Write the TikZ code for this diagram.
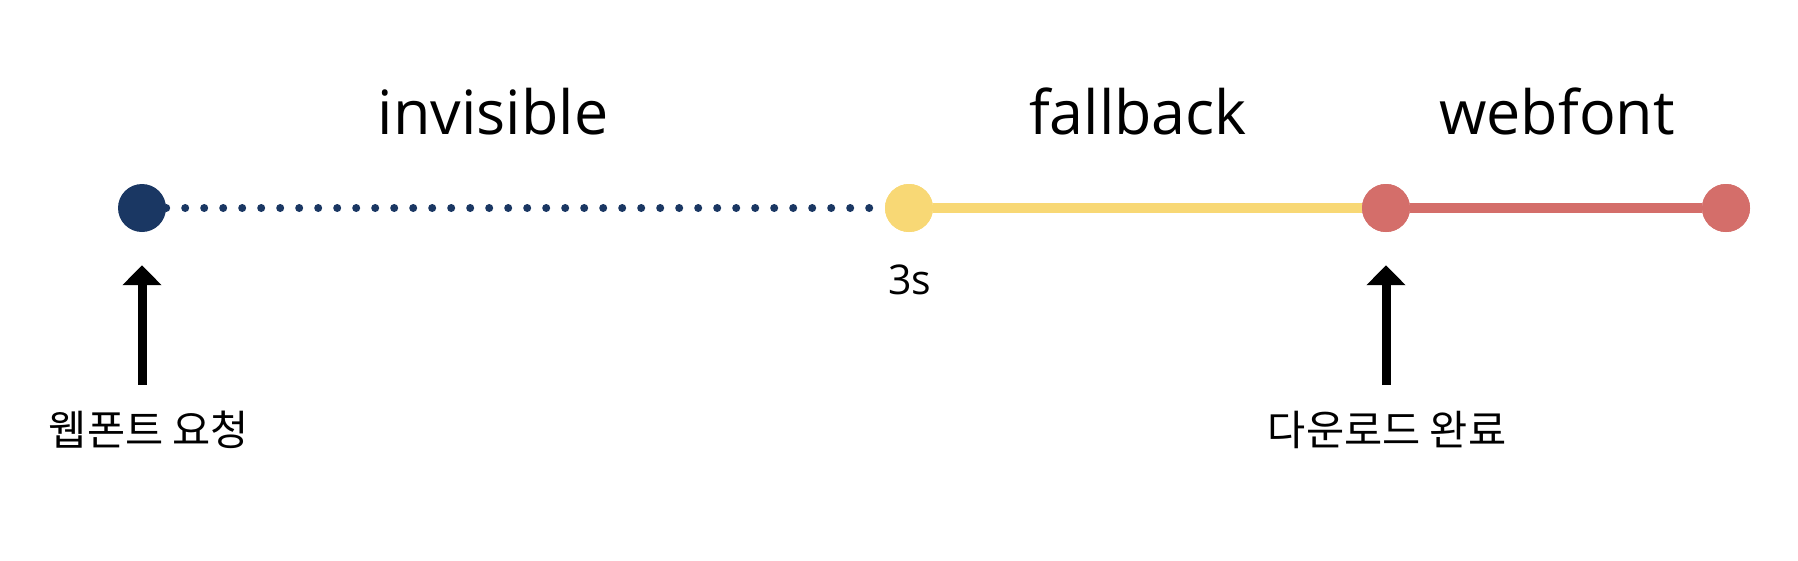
\documentclass[tikz,border=0pt]{standalone}
\usepackage{fontspec}
\setmainfont{Open Sans}
\newfontfamily\kofont{Noto Sans CJK KR}
\definecolor{navy}{HTML}{1A3763}
\definecolor{sunny}{HTML}{F8D875}
\definecolor{coral}{HTML}{D46E6A}
\usetikzlibrary{arrows.meta,positioning}

\begin{document}
\begin{tikzpicture}[x=1pt, y=-1pt,
  dot/.style={circle, inner sep=0pt, minimum size=48pt},
  phase/.style={anchor=base, font=\fontsize{61}{73}\selectfont},
  event/.style={inner sep=0pt, font=\kofont\fontsize{41.5}{50}\selectfont},
  push/.style={line width=9pt, -{Triangle[width=38pt,length=20pt]}},
  track/.style={line width=10pt}]
\useasboundingbox (0,0) rectangle (1798,560);
\node[dot, fill=navy] (start) at (142,208) {};
\node[dot, fill=sunny] (swap) at (909,208) {};
\node[dot, fill=coral] (loaded) at (1386,208) {};
\node[dot, fill=coral] (stop) at (1726,208) {};
% segments
\draw[navy, line width=8pt, line cap=round, dash pattern=on 0pt off 19pt] (start.east) -- (swap.west);
\draw[track, sunny] (swap) -- (loaded);
\draw[track, coral] (loaded) -- (stop);
\node[dot, fill=sunny] at (swap) {};
\node[dot, fill=coral] at (loaded) {};
\node[dot, fill=coral] at (stop) {};
% labels
\node[phase] (invis) at (493,134) {invisible};
\node[phase] (fback) at (1138,134) {fallback};
\node[phase] (wfont) at (1557,134) {webfont};
\node[font=\fontsize{41}{49}\selectfont, inner sep=0pt] (three) at (910,280) {3s};
\node[event] (req) at (149,430) {웹폰트 요청};
\node[event] (done) at (1387,430) {다운로드 완료};
\draw[push, shorten <=26pt, shorten >=33pt] (req.north -| start) -- (start.south);
\draw[push, shorten <=26pt, shorten >=33pt] (done.north -| loaded) -- (loaded.south);
\end{tikzpicture}
\end{document}
